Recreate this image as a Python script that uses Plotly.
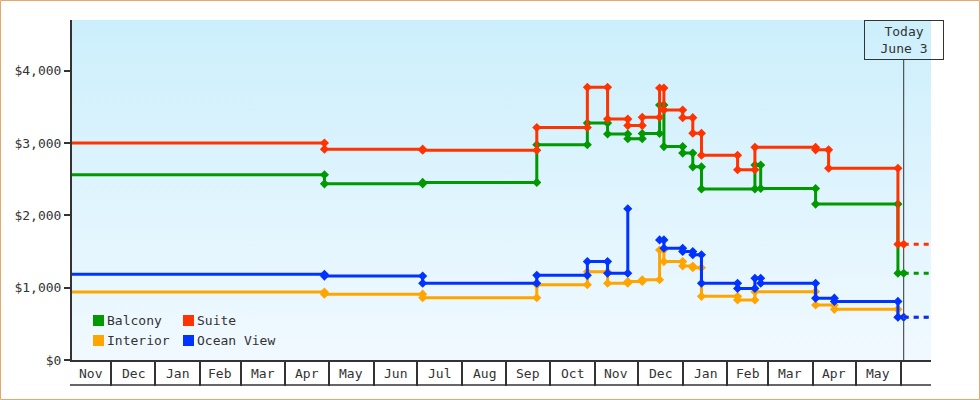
import base64
import pandas as pd
import plotly.graph_objects as go

# ---------------- data ----------------
TODAY = "2019-06-03"
X_START = "2017-11-04 06:00"
X_END = "2019-06-21 21:30"

series_names = ["Interior", "Ocean View", "Balcony", "Suite"]
series_colors = ["#FFA500", "#0033FF", "#009900", "#FF3300"]

interior_dates = ["2017-11-04", "2018-04-28", "2018-07-05", "2018-09-22", "2018-10-27",
                  "2018-11-10", "2018-11-24", "2018-12-04", "2018-12-16", "2018-12-19",
                  "2019-01-01", "2019-01-08", "2019-01-14", "2019-02-08", "2019-02-20",
                  "2019-04-03", "2019-04-16", "2019-05-30"]
interior_prices = [940, 910, 860, 1040, 1220, 1060, 1085, 1110, 1520, 1360,
                   1300, 1275, 880, 830, 945, 760, 700, 590]

ocean_dates = ["2017-11-04", "2018-04-28", "2018-07-05", "2018-09-22", "2018-10-27",
               "2018-11-10", "2018-11-24", "2018-11-25", "2018-12-16", "2018-12-19",
               "2019-01-01", "2019-01-08", "2019-01-14", "2019-02-08", "2019-02-20",
               "2019-02-24", "2019-04-03", "2019-04-16", "2019-05-30"]
ocean_prices = [1185, 1160, 1060, 1170, 1360, 1200, 2090, None, 1660, 1545,
                1500, 1455, 1060, 990, 1130, 1060, 855, 810, 590]

balcony_dates = ["2017-11-04", "2018-04-28", "2018-07-05", "2018-09-22", "2018-10-27",
                 "2018-11-10", "2018-11-24", "2018-12-04", "2018-12-16", "2018-12-19",
                 "2019-01-01", "2019-01-08", "2019-01-14", "2019-02-20", "2019-02-24",
                 "2019-04-03", "2019-05-30"]
balcony_prices = [2560, 2435, 2455, 2975, 3275, 3125, 3060, 3130, 3525, 2950,
                  2860, 2670, 2365, 2695, 2370, 2155, 1200]

suite_dates = ["2017-11-04", "2018-04-28", "2018-07-05", "2018-09-22", "2018-10-27",
               "2018-11-10", "2018-11-24", "2018-12-04", "2018-12-16", "2018-12-19",
               "2019-01-01", "2019-01-08", "2019-01-14", "2019-02-08", "2019-02-20",
               "2019-04-03", "2019-04-12", "2019-05-30"]
suite_prices = [3000, 2915, 2900, 3215, 3770, 3330, 3240, 3355, 3760, 3455,
                3350, 3135, 2830, 2630, 2940, 2905, 2650, 1600]

y_ticks = [0, 1000, 2000, 3000, 4000]

all_dates = [interior_dates, ocean_dates, balcony_dates, suite_dates]
all_prices = [interior_prices, ocean_prices, balcony_prices, suite_prices]

legend_order = ["Balcony", "Suite", "Interior", "Ocean View"]

# ---------------- layout constants ----------------
W, H = 980, 400
ML, MR, MT, MB = 72, 49, 20, 40
PW, PH = W - ML - MR, H - MT - MB
FONT = "DejaVu Sans Mono"
INK = "#333333"


def px_x(px):
    return (px - ML) / PW


def px_y(py):
    return (H - MB - py) / PH


def steps(dates, prices, today):
    xs, ys = [], []
    prev = None
    for i, (d, p) in enumerate(zip(dates, prices)):
        if i > 0 and prev is not None and p is not None:
            xs.append(d)
            ys.append(prev)
        xs.append(d)
        ys.append(p)
        prev = p
    xs.append(today)
    ys.append(prev)
    return xs, ys


fig = go.Figure()

for name, color, ds, ps in zip(series_names, series_colors, all_dates, all_prices):
    xs, ys = steps(ds, ps, TODAY)
    fig.add_trace(go.Scatter(
        x=xs, y=ys, mode="lines+markers", name=name, showlegend=False,
        line=dict(color=color, width=3), connectgaps=False,
        marker=dict(symbol="diamond", size=7, color=color),
        cliponaxis=False, hoverinfo="skip"))

for name, color, ps in zip(series_names, series_colors, all_prices):
    last = ps[-1]
    fig.add_trace(go.Scatter(
        x=[TODAY, X_END], y=[last, last], mode="lines", showlegend=False,
        line=dict(color=color, width=3, dash="5px,5px"), hoverinfo="skip"))

# gradient background via svg image
svg = ('<svg xmlns="http://www.w3.org/2000/svg" width="10" height="100" preserveAspectRatio="none">'
       '<defs><linearGradient id="g" x1="0" y1="0" x2="0" y2="1">'
       '<stop offset="0" stop-color="#CCEFFC"/><stop offset="1" stop-color="#F1F9FF"/>'
       '</linearGradient></defs><rect width="10" height="100" fill="url(#g)"/></svg>')
src = "data:image/svg+xml;base64," + base64.b64encode(svg.encode()).decode()

shapes = []
annotations = []

# today line
shapes.append(dict(type="line", xref="x", yref="paper", x0=TODAY, x1=TODAY,
                   y0=0, y1=px_y(60), line=dict(color=INK, width=1), layer="below"))
annotations.append(dict(x=TODAY, xref="x", y=1, yref="paper", yanchor="top", xanchor="center",
                        text="Today<br>June 3", showarrow=False, width=78, height=38,
                        bordercolor=INK, borderwidth=1, borderpad=0,
                        bgcolor="rgba(0,0,0,0)", align="center",
                        font=dict(family=FONT, size=13, color=INK)))

# month boxes: bottom line + labels
shapes.append(dict(type="line", xref="paper", yref="paper", x0=px_x(70), x1=1,
                   y0=px_y(385), y1=px_y(385), line=dict(color=INK, width=1.5)))
x0 = pd.Timestamp(X_START)
x1 = pd.Timestamp(X_END)
month_starts = pd.date_range(x0.to_period("M").to_timestamp(), x1, freq="MS")
for ms in month_starts:
    me = ms + pd.offsets.MonthBegin(1)
    vs, ve = max(ms, x0), min(me, x1)
    if (ve - vs).days >= 25:
        annotations.append(dict(x=vs + (ve - vs) / 2, xref="x", y=px_y(373.5), yref="paper",
                                text=ms.strftime("%b"), showarrow=False,
                                xanchor="center", yanchor="middle",
                                font=dict(family=FONT, size=13, color=INK)))
tick_vals = [m for m in month_starts if x0 <= m <= x1]

# legend
leg_pos = {"Balcony": (93, 315), "Suite": (183, 315), "Interior": (93, 335), "Ocean View": (183, 335)}
color_of = dict(zip(series_names, series_colors))
for name in legend_order:
    lx, ly = leg_pos[name]
    shapes.append(dict(type="rect", xref="paper", yref="paper",
                       x0=px_x(lx), x1=px_x(lx + 11), y0=px_y(ly + 11), y1=px_y(ly),
                       fillcolor=color_of[name], line=dict(width=0)))
    annotations.append(dict(x=px_x(lx + 12), xref="paper", y=px_y(ly + 5.5), yref="paper",
                            text=name, showarrow=False, xanchor="left", yanchor="middle",
                            font=dict(family=FONT, size=13, color=INK)))

# outer border
shapes.append(dict(type="rect", xref="paper", yref="paper",
                   x0=px_x(0.5), x1=px_x(W - 0.5), y0=px_y(H - 0.5), y1=px_y(0.5),
                   line=dict(color="#E6A86A", width=1), fillcolor="rgba(0,0,0,0)"))

fig.update_layout(
    width=W, height=H, margin=dict(l=ML, r=MR, t=MT, b=MB, pad=0),
    paper_bgcolor="white", plot_bgcolor="white",
    font=dict(family=FONT, size=13, color=INK),
    showlegend=False,
    images=[dict(source=src, xref="paper", yref="paper", x=0, y=1, sizex=1, sizey=1,
                 xanchor="left", yanchor="top", sizing="stretch", layer="below")],
    shapes=shapes, annotations=annotations,
    xaxis=dict(type="date", range=[X_START, X_END], showgrid=False, zeroline=False,
               showline=True, linecolor=INK, linewidth=2,
               tickvals=tick_vals, showticklabels=False,
               ticks="outside", ticklen=24, tickwidth=1.5, tickcolor=INK),
    yaxis=dict(range=[0, 4700], showgrid=False, zeroline=False,
               showline=True, linecolor=INK, linewidth=2,
               ticks="outside", ticklen=6, tickwidth=2, tickcolor=INK,
               tickvals=y_ticks, ticktext=["$" + f"{v:,}" for v in y_ticks],
               tickfont=dict(family=FONT, size=13, color=INK)),
)

fig.write_html("out.html")
